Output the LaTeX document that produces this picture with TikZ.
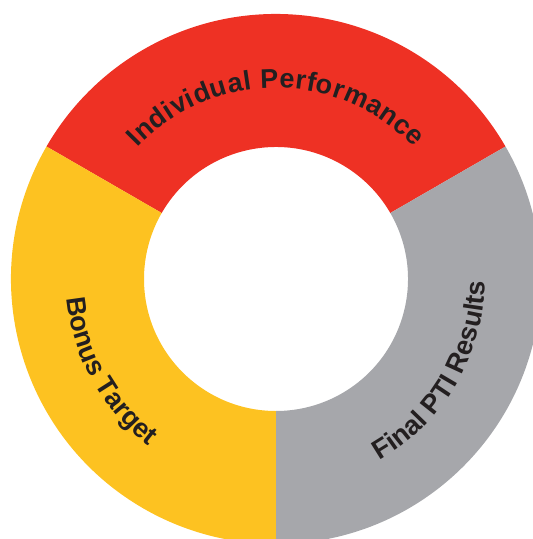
\documentclass[tikz,border=0pt]{standalone}
\usepackage{fontspec}
\setmainfont{Liberation Sans}
\usetikzlibrary{decorations.text}
\definecolor{ringred}{HTML}{EE3124}
\definecolor{ringyellow}{HTML}{FDC221}
\definecolor{ringgray}{HTML}{A6A7AB}
\definecolor{labeldark}{HTML}{231F20}

\tikzset{
  ringlabel/.style={decorate, decoration={text along path, text align=center,
    text color=labeldark, text={|\bfseries\fontsize{27}{32}\selectfont|#1}}}
}

\begin{document}
\begin{tikzpicture}[x=1pt,y=1pt]
\useasboundingbox (-276,-260) rectangle (257,279);
\clip (-276,-260) rectangle (257,279);

% Ring segments, 120 degrees each
\fill[ringred] (30:265) arc[start angle=30, end angle=150, radius=265]
  -- (150:132) arc[start angle=150, end angle=30, radius=132] -- cycle;
\fill[ringgray] (-90:265) arc[start angle=-90, end angle=30, radius=265]
  -- (30:132) arc[start angle=30, end angle=-90, radius=132] -- cycle;
\fill[ringyellow] (150:265) arc[start angle=150, end angle=270, radius=265]
  -- (270:132) arc[start angle=270, end angle=150, radius=132] -- cycle;

% Labels along the ring (top one spread a little wider)
\path[ringlabel={Individual Performance}, decoration={text align=fit to path}]
  (136.5:191) arc[start angle=136.5, end angle=43.5, radius=191];
\path[ringlabel={Final PTI Results}] (-75.5:209) arc[start angle=-75.5, end angle=14.5, radius=209];
\path[ringlabel={Bonus Target}] (164:210) arc[start angle=164, end angle=254, radius=210];
\end{tikzpicture}
\end{document}
